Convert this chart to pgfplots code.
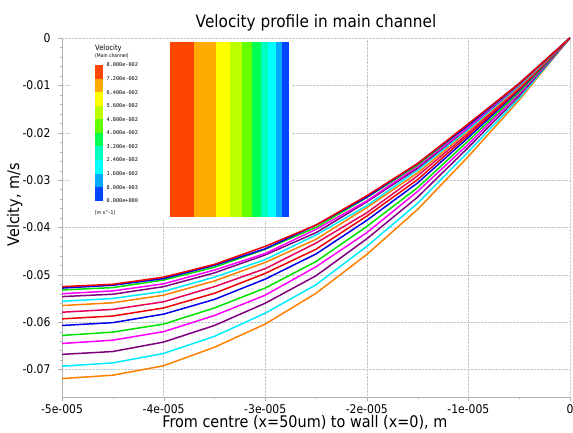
\documentclass[border=0pt]{standalone}
\usepackage{fontspec}
\setmainfont[FakeStretch=0.9]{DejaVu Sans}
\newfontfamily\monof{DejaVu Sans Mono}
\usepackage{pgfplots}
\usepackage{pgfplotstable}
\pgfplotsset{compat=1.18}

\definecolor{cOrange}{RGB}{255,128,0}
\definecolor{cCyan}{RGB}{0,235,255}
\definecolor{cPurple}{RGB}{128,0,128}
\definecolor{cMagenta}{RGB}{255,0,255}
\definecolor{cGreen}{RGB}{0,225,0}
\definecolor{cBlue}{RGB}{0,0,235}
\definecolor{cRed}{RGB}{240,0,0}
\definecolor{cCrimson}{RGB}{230,0,90}

\definecolor{b1}{RGB}{255,70,0}
\definecolor{b2}{RGB}{255,170,0}
\definecolor{b3}{RGB}{255,255,0}
\definecolor{b4}{RGB}{190,255,0}
\definecolor{b5}{RGB}{100,255,0}
\definecolor{b6}{RGB}{0,255,80}
\definecolor{b7}{RGB}{0,255,190}
\definecolor{b8}{RGB}{0,255,255}
\definecolor{b9}{RGB}{0,170,255}
\definecolor{b10}{RGB}{0,70,255}

\pgfplotstableread{
x        c1      c2      c3      c4      c5      c6      c7      c8      c9      c10     c11     c12     c13     c14     c15
-5e-5    -0.0719 -0.0693 -0.0668 -0.0645 -0.0628 -0.0607 -0.0593 -0.0579 -0.0565 -0.0556 -0.0546 -0.0540 -0.0532 -0.0528 -0.0525
-4.5e-5  -0.0712 -0.0686 -0.0662 -0.0638 -0.0621 -0.0601 -0.0587 -0.0573 -0.0559 -0.0550 -0.0541 -0.0534 -0.0527 -0.0522 -0.0520
-4e-5    -0.0692 -0.0666 -0.0642 -0.0620 -0.0604 -0.0583 -0.0570 -0.0557 -0.0543 -0.0535 -0.0525 -0.0519 -0.0511 -0.0508 -0.0505
-3.5e-5  -0.0653 -0.0630 -0.0607 -0.0586 -0.0570 -0.0552 -0.0539 -0.0525 -0.0513 -0.0505 -0.0496 -0.0490 -0.0484 -0.0480 -0.0478
-3e-5    -0.0604 -0.0581 -0.0560 -0.0543 -0.0528 -0.0509 -0.0497 -0.0487 -0.0474 -0.0468 -0.0458 -0.0455 -0.0446 -0.0445 -0.0440
-2.5e-5  -0.0539 -0.0521 -0.0502 -0.0483 -0.0472 -0.0456 -0.0446 -0.0433 -0.0425 -0.0416 -0.0411 -0.0404 -0.0400 -0.0395 -0.0395
-2e-5    -0.0457 -0.0440 -0.0424 -0.0411 -0.0398 -0.0385 -0.0376 -0.0369 -0.0358 -0.0354 -0.0346 -0.0344 -0.0337 -0.0336 -0.0333
-1.5e-5  -0.0362 -0.0349 -0.0336 -0.0324 -0.0316 -0.0306 -0.0299 -0.0291 -0.0285 -0.0279 -0.0275 -0.0271 -0.0268 -0.0265 -0.0265
-1e-5    -0.0250 -0.0240 -0.0231 -0.0224 -0.0217 -0.0210 -0.0205 -0.0201 -0.0196 -0.0193 -0.0189 -0.0188 -0.0184 -0.0184 -0.0181
-0.5e-5  -0.0131 -0.0127 -0.0122 -0.0117 -0.0114 -0.0110 -0.0108 -0.0105 -0.0103 -0.0101 -0.0099 -0.0098 -0.0097 -0.0096 -0.0096
0         0       0       0       0       0       0       0       0       0       0       0       0       0       0       0
}\profiles

\begin{document}
\begin{tikzpicture}[x=1pt,y=1pt]
\useasboundingbox (0,0) rectangle (573,432);
\begin{axis}[
  at={(62pt,35pt)}, anchor=south west,
  scale only axis, width=508pt, height=359pt,
  xmin=-5e-5, xmax=0, ymin=-0.0758, ymax=0,
  scaled x ticks=false, scaled y ticks=false,
  axis x line=bottom, axis y line=left,
  axis line style={gray!60,-},
  tick style={gray!60},
  tick align=outside,
  major tick length=4pt, minor tick length=2pt,
  xtick={-5e-5,-4e-5,-3e-5,-2e-5,-1e-5,0},
  xticklabels={-5e-005,-4e-005,-3e-005,-2e-005,-1e-005,0},
  minor x tick num=1,
  ytick={0,-0.01,-0.02,-0.03,-0.04,-0.05,-0.06,-0.07},
  yticklabels={0,-0.01,-0.02,-0.03,-0.04,-0.05,-0.06,-0.07},
  minor y tick num=4,
  grid=major,
  major grid style={gray!45, densely dotted},
  /pgf/number format/assume math mode=true,
  ticklabel style={font=\fontsize{12}{14}\selectfont},
  xticklabel style={anchor=base, inner sep=0pt, yshift=-12pt},
  yticklabel style={anchor=east, xshift=-4pt},
  title={Velocity profile in main channel},
  title style={font=\fontsize{17}{20}\selectfont, inner sep=0pt, at={(0.5,1)}, anchor=base, yshift=4pt},
  xlabel={From centre (x=50um) to wall (x=0), m},
  xlabel style={font=\fontsize{16}{18}\selectfont, inner sep=0pt, at={(0.478,0)}, anchor=base, yshift=-30pt},
  ylabel={Velcity, m/s},
  ylabel style={font=\fontsize{16}{18}\selectfont, inner sep=0pt, at={(axis description cs:-0.093,0.535)}, anchor=center},
  every axis plot/.append style={line width=1.5pt, line join=round},
]
\addplot[cOrange]  table[x=x,y=c1]  {\profiles};
\addplot[cCyan]    table[x=x,y=c2]  {\profiles};
\addplot[cPurple]  table[x=x,y=c3]  {\profiles};
\addplot[cMagenta] table[x=x,y=c4]  {\profiles};
\addplot[cGreen]   table[x=x,y=c5]  {\profiles};
\addplot[cBlue]    table[x=x,y=c6]  {\profiles};
\addplot[cRed]     table[x=x,y=c7]  {\profiles};
\addplot[cCrimson] table[x=x,y=c8]  {\profiles};
\addplot[cOrange]  table[x=x,y=c9]  {\profiles};
\addplot[cCyan]    table[x=x,y=c10] {\profiles};
\addplot[cPurple]  table[x=x,y=c11] {\profiles};
\addplot[cMagenta] table[x=x,y=c12] {\profiles};
\addplot[cGreen]   table[x=x,y=c13] {\profiles};
\addplot[cBlue]    table[x=x,y=c14] {\profiles};
\addplot[cRed]     table[x=x,y=c15] {\profiles};
\end{axis}
% inset legend picture
\fill[white] (70,392) rectangle (292,212);
\node[anchor=base west, inner sep=0pt, font=\fontsize{7.5}{9}\selectfont] at (95,381) {Velocity};
\node[anchor=base west, inner sep=0pt, font=\fontsize{5}{6}\selectfont] at (95,374) {(Main channel)};
\foreach \c [count=\i from 0] in {b1,b2,b3,b4,b5,b6,b7,b8,b9,b10} {
  \fill[\c] (95,{367-\i*13.57}) rectangle (103.3,{367-(\i+1)*13.57});
}
\foreach \t [count=\i from 0] in {8.000e-002,7.200e-002,6.400e-002,5.600e-002,4.800e-002,4.000e-002,3.200e-002,2.400e-002,1.600e-002,8.000e-003,0.000e+000} {
  \node[anchor=west, inner sep=0pt, font=\monof\fontsize{5.2}{6}\selectfont] at (106.5,{367-\i*13.57}) {\t};
}
\node[anchor=base west, inner sep=0pt, font=\fontsize{5}{6}\selectfont] at (95,218) {[m s\^{}-1]};
\fill[b1]  (170,390.3) rectangle (194.3,215.3);
\fill[b2]  (194.3,390.3) rectangle (215.7,215.3);
\fill[b3]  (215.7,390.3) rectangle (230,215.3);
\fill[b4]  (230,390.3) rectangle (241.7,215.3);
\fill[b5]  (241.7,390.3) rectangle (251.7,215.3);
\fill[b6]  (251.7,390.3) rectangle (261,215.3);
\fill[b7]  (261,390.3) rectangle (268.3,215.3);
\fill[b8]  (268.3,390.3) rectangle (276,215.3);
\fill[b9]  (276,390.3) rectangle (282.3,215.3);
\fill[b10] (282.3,390.3) rectangle (289,215.3);
\end{tikzpicture}
\end{document}
